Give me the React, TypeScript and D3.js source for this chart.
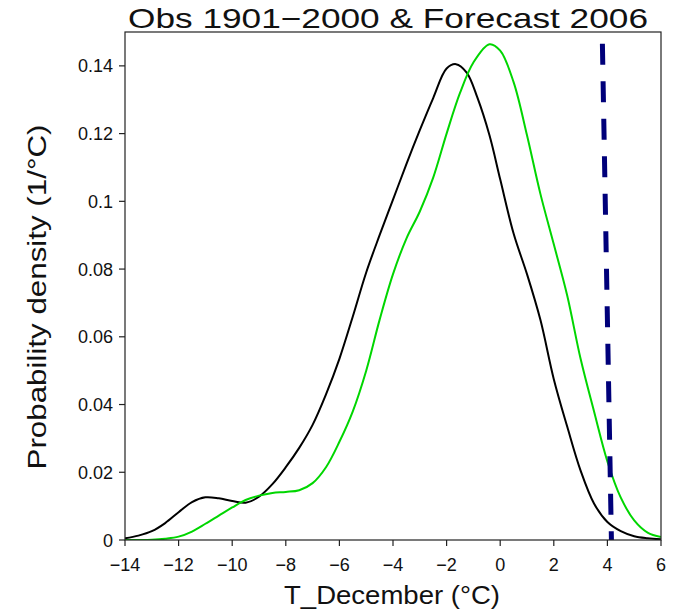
import React from "react";
import * as d3 from "d3";

const obsX = [-14, -13.5, -13, -12.5, -12, -11.5, -11, -10.5, -10, -9.5, -9, -8.5, -8, -7.5, -7, -6.5, -6, -5.5, -5, -4.5, -4, -3.5, -3, -2.5, -2, -1.65, -1.25, -0.85, -0.4, 0, 0.5, 1, 1.5, 2, 2.5, 3, 3.5, 4, 4.5, 5, 5.5, 6];
const obsY = [0.0005, 0.0013, 0.0026, 0.005, 0.0082, 0.0112, 0.0126, 0.0123, 0.0115, 0.011, 0.0128, 0.0165, 0.0215, 0.0272, 0.034, 0.043, 0.0535, 0.066, 0.079, 0.09, 0.1005, 0.111, 0.121, 0.1305, 0.1392, 0.1405, 0.138, 0.1306, 0.1195, 0.1065, 0.0905, 0.0785, 0.065, 0.0475, 0.0335, 0.0205, 0.0108, 0.0053, 0.0026, 0.0011, 0.0005, 0.0002];

const fcX = [-14, -13, -12.5, -12, -11.5, -11, -10.5, -10, -9.5, -9, -8.5, -8, -7.5, -7, -6.5, -6, -5.5, -5, -4.5, -4, -3.5, -3, -2.5, -2, -1.5, -1, -0.4, 0, 0.5, 1, 1.5, 2, 2.5, 3, 3.5, 4, 4.5, 5, 5.5, 6];
const fcY = [0, 0.0001, 0.0004, 0.001, 0.0025, 0.0048, 0.0072, 0.0096, 0.0118, 0.0131, 0.0139, 0.0142, 0.0147, 0.0168, 0.0215, 0.029, 0.038, 0.05, 0.065, 0.0785, 0.089, 0.097, 0.107, 0.12, 0.132, 0.141, 0.1464, 0.1445, 0.1352, 0.1195, 0.1022, 0.0873, 0.0722, 0.0535, 0.038, 0.0232, 0.0125, 0.0058, 0.0022, 0.0009];

const forecastX = [3.81, 4.15];
const forecastY = [0.148, 0];

const xTicks = [-14, -12, -10, -8, -6, -4, -2, 0, 2, 4, 6];
const yTicks = [0, 0.02, 0.04, 0.06, 0.08, 0.1, 0.12, 0.14];

const titleText = "Obs 1901\u22122000 & Forecast 2006";
const xTitle = "T_December (\u00B0C)";
const yTitle = "Probability density (1/\u00B0C)";

export default function App() {
  const W = 679, H = 611;
  const L = 125, R = 661, T = 32, B = 540;
  const x = d3.scaleLinear().domain([-14, 6]).range([L, R]);
  const y = d3.scaleLinear().domain([0, 0.15]).range([B, T]);
  const line = d3
    .line<[number, number]>()
    .x((d) => x(d[0]))
    .y((d) => y(d[1]))
    .curve(d3.curveCatmullRom.alpha(0.5));
  const obs = obsX.map((v, i) => [v, obsY[i]] as [number, number]);
  const fc = fcX.map((v, i) => [v, fcY[i]] as [number, number]);
  const fl = d3
    .line<[number, number]>()
    .x((d) => x(d[0]))
    .y((d) => y(d[1]));
  const fcLine = forecastX.map((v, i) => [v, forecastY[i]] as [number, number]);
  const xfmt = d3.format("d");
  const font = "'Liberation Sans', Arial, sans-serif";
  return (
    <svg
      width={W}
      height={H}
      style={{ position: "absolute", left: 0, top: 0, background: "#fff" }}
      fontFamily={font}
    >
      <rect x={0} y={0} width={W} height={H} fill="#fff" />
      <defs>
        <clipPath id="plotclip">
          <rect x={L} y={T} width={R - L} height={B - T} />
        </clipPath>
      </defs>
      <g clipPath="url(#plotclip)">
        <path d={line(obs) || ""} fill="none" stroke="#000" strokeWidth={2} />
        <path d={line(fc) || ""} fill="none" stroke="#00d600" strokeWidth={2} />
      </g>
      <path
        d={fl(fcLine) || ""}
        fill="none"
        stroke="#00007a"
        strokeWidth={5}
        strokeDasharray="21,16.5"
        strokeDashoffset={-5}
      />
      <rect x={L} y={T} width={R - L} height={B - T} fill="none" stroke="#222" strokeWidth={1.2} />
      {xTicks.map((t) => (
        <g key={"x" + t}>
          <line x1={x(t)} x2={x(t)} y1={B} y2={B + 6} stroke="#222" strokeWidth={1.2} />
          <text x={x(t)} y={B + 31} fontSize={18} textAnchor="middle" fill="#111">
            {xfmt(t)}
          </text>
        </g>
      ))}
      {yTicks.map((t) => (
        <g key={"y" + t}>
          <line x1={L - 6} x2={L} y1={y(t)} y2={y(t)} stroke="#222" strokeWidth={1.2} />
          <text x={L - 12} y={y(t) + 6.5} fontSize={18} textAnchor="end" fill="#111">
            {String(+t.toFixed(2))}
          </text>
        </g>
      ))}
      <text
        x={388}
        y={28}
        fontSize={28}
        textAnchor="middle"
        fill="#111"
        textLength={520}
        lengthAdjust="spacingAndGlyphs"
      >
        {titleText}
      </text>
      <text
        x={392}
        y={604}
        fontSize={25}
        textAnchor="middle"
        fill="#111"
        textLength={216}
        lengthAdjust="spacingAndGlyphs"
      >
        {xTitle}
      </text>
      <text
        transform={`translate(46,${297}) rotate(-90)`}
        fontSize={25}
        textAnchor="middle"
        fill="#111"
        textLength={345}
        lengthAdjust="spacingAndGlyphs"
      >
        {yTitle}
      </text>
    </svg>
  );
}
